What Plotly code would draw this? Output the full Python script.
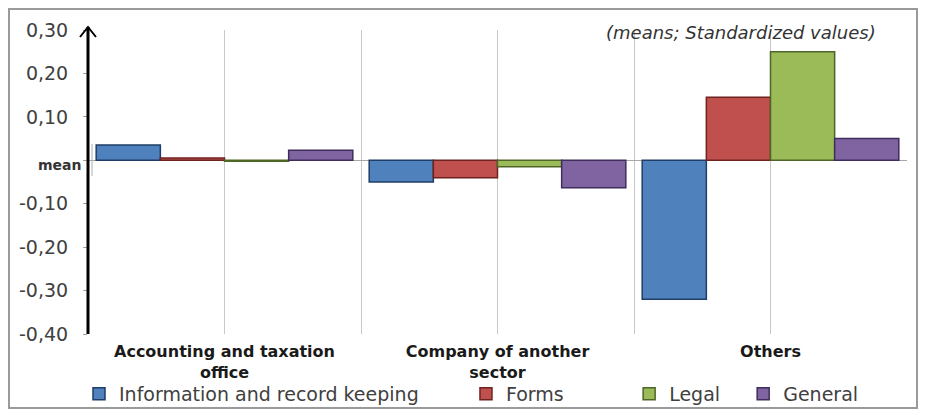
import plotly.graph_objects as go

categories = ["Accounting and taxation<br>office", "Company of another<br>sector", "Others"]
series_names = ["Information and record keeping", "Forms", "Legal", "General"]
info_vals = [0.035, -0.050, -0.320]
forms_vals = [0.005, -0.040, 0.145]
legal_vals = [-0.002, -0.015, 0.250]
general_vals = [0.023, -0.063, 0.050]
y_ticks = [0.30, 0.20, 0.10, 0.0, -0.10, -0.20, -0.30, -0.40]
y_ticktext = ["0,30", "0,20", "0,10", "mean", "-0,10", "-0,20", "-0,30", "-0,40"]

fills = ["#4F81BD", "#C0504D", "#9BBB59", "#8064A2"]
edges = ["#1F3D66", "#6E2321", "#4E6627", "#3F2D5C"]
legend_pad = [7, 10, 3, 0]  # trailing spaces to mimic original legend spacing
xpos = list(range(len(categories)))

fig = go.Figure()
for name, vals, fc, ec, pad in zip(series_names, [info_vals, forms_vals, legal_vals, general_vals],
                                   fills, edges, legend_pad):
    fig.add_trace(go.Bar(x=xpos, y=vals, name=name + "\u00a0" * pad,
                         marker=dict(color=fc, line=dict(color=ec, width=1.5))))

W, H = 926, 415
L, T = 88, 30
R = W - 907
B = H - 334
pw, ph = W - L - R, H - T - B

def px(x):
    return (x - L) / pw

def py(y):
    return (H - B - y) / ph

shapes = [
    dict(type="rect", xref="paper", yref="paper", x0=px(9), x1=px(917), y0=py(408), y1=py(9),
         line=dict(color="#9a9a9a", width=2), layer="below"),
    dict(type="line", xref="paper", yref="paper", x0=0, x1=0, y0=py(334), y1=py(27),
         line=dict(color="black", width=3)),
    dict(type="line", xref="paper", yref="paper", x0=px(92), x1=px(92), y0=py(176), y1=py(144),
         line=dict(color="#b0b0b0", width=1)),
    dict(type="path", xref="paper", yref="paper",
         path=f"M {px(80)} {py(37)} L {px(88)} {py(27)} L {px(96)} {py(37)}",
         line=dict(color="black", width=2)),
]

mean_idx = y_ticks.index(0.0)
tick_text_axis = [t if i != mean_idx else "" for i, t in enumerate(y_ticktext)]

fig.update_layout(
    width=W, height=H,
    margin=dict(l=L, r=R, t=T, b=B, autoexpand=False),
    paper_bgcolor="white", plot_bgcolor="white",
    barmode="group", bargap=0.06, bargroupgap=0,
    font=dict(family="DejaVu Sans", color="#404040"),
    showlegend=True,
    legend=dict(orientation="h", xref="container", yref="container",
                x=79 / W, xanchor="left", y=1 - 394 / H, yanchor="middle",
                bgcolor="rgba(0,0,0,0)",
                font=dict(size=19, color="#404040"), traceorder="normal",
                itemwidth=30, tracegroupgap=0),
    shapes=shapes,
    annotations=[
        dict(text="<i>(means; Standardized values)</i>", xref="paper", yref="paper",
             x=px(878), y=py(33), xanchor="right", yanchor="middle", showarrow=False,
             font=dict(family="DejaVu Sans", size=18, color="#333333")),
        dict(text="<b>" + y_ticktext[mean_idx] + "</b>", xref="paper", yref="y",
             x=px(84), y=y_ticks[mean_idx], yshift=-5, xanchor="right", yanchor="middle",
             showarrow=False, font=dict(family="DejaVu Sans", size=14, color="#333333")),
    ],
)

fig.update_xaxes(range=[-0.5, 2.5], tickvals=xpos, ticktext=["<b>" + c + "</b>" for c in categories],
                 showgrid=True, gridcolor="#c8c8c8", gridwidth=1,
                 minor=dict(tickvals=[-0.5, 0.5, 1.5, 2.5], showgrid=True, gridcolor="#c8c8c8", gridwidth=1),
                 tickfont=dict(size=16, color="#1a1a1a"), ticks="outside", ticklen=3,
                 tickcolor="rgba(0,0,0,0)", showline=False, zeroline=False)
fig.update_yaxes(range=[-0.40, 0.30], tickvals=y_ticks, ticktext=tick_text_axis, showgrid=False,
                 zeroline=True, zerolinecolor="#a8a8a8", zerolinewidth=1,
                 ticks="outside", ticklen=4, tickcolor="#a0a0a0",
                 tickfont=dict(size=19, color="#404040"), ticklabelstandoff=11, showline=False)

fig.write_html("out.html", config={"displayModeBar": False},
               post_script="document.body.style.margin='0px';"
                           "document.documentElement.style.overflow='hidden';"
                           "document.body.style.overflow='hidden';")
